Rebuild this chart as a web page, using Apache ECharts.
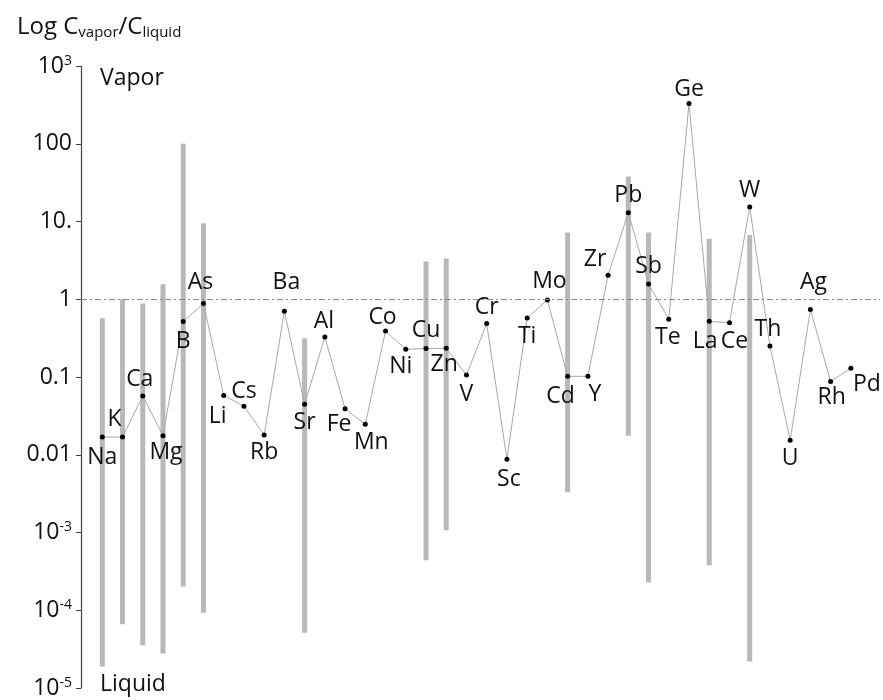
<!DOCTYPE html>
<html>
<head>
<meta charset="utf-8">
<script src="https://cdn.jsdelivr.net/npm/echarts@6/dist/echarts.min.js"></script>
<style>
  html, body { margin: 0; padding: 0; background: #fff; }
  #chart { width: 883px; height: 700px; }
</style>
</head>
<body>
<div id="chart"></div>
<script>
// Elements, in plotting order
const elements = ['Na', 'K', 'Ca', 'Mg', 'B', 'As', 'Li', 'Cs', 'Rb', 'Ba', 'Sr', 'Al', 'Fe', 'Mn',
  'Co', 'Ni', 'Cu', 'Zn', 'V', 'Cr', 'Sc', 'Ti', 'Mo', 'Cd', 'Y', 'Zr', 'Pb', 'Sb', 'Te', 'Ge',
  'La', 'Ce', 'W', 'Th', 'U', 'Ag', 'Rh', 'Pd'];

// C_vapor / C_liquid partition coefficient per element
const partition = [0.0169, 0.0169, 0.057, 0.0175, 0.516, 0.88, 0.058, 0.042, 0.018, 0.70,
  0.0446, 0.327, 0.039, 0.0247, 0.39, 0.227, 0.232, 0.234, 0.106, 0.486, 0.00875, 0.575,
  0.98, 0.102, 0.102, 2.04, 13.0, 1.57, 0.553, 329, 0.521, 0.50, 15.4, 0.25, 0.0154, 0.74,
  0.0873, 0.130];

// Reported ranges (element, low, high)
const rangeElements = ['Na', 'K', 'Ca', 'Mg', 'B', 'As', 'Sr', 'Cu', 'Zn', 'Cd', 'Pb', 'Sb', 'La', 'W'];
const rangeLow  = [1.89e-5, 6.6e-5, 3.55e-5, 2.77e-5, 2.02e-4, 9.3e-5, 5.15e-5, 4.4e-4, 1.07e-3,
  3.3e-3, 0.0175, 2.27e-4, 3.8e-4, 2.19e-5];
const rangeHigh = [0.57, 1.0, 0.88, 1.56, 100, 9.5, 0.315, 3.05, 3.34, 7.2, 37.8, 7.2, 6.0, 6.7];

// Y-axis tick labels, from 10^-5 up to 10^3
const tickLabels = ['10{s|-5}', '10{s|-4}', '10{s|-3}', '0.01', '0.1', '1', '10.', '100', '10{s|3}'];

// Label placement around each point (dx, dy)
const labelOffsets = [[0, 20], [-8, -18], [-3, -17], [3, 17], [0, 20], [-3, -21], [-6, 21], [0, -15],
  [0, 18], [2, -29], [0, 18], [-1, -16], [-6, 16], [6, 18], [-3, -14], [-5, 17], [0, -18], [-2, 16],
  [0, 19], [0, -16], [2, 20], [0, 19], [2, -18], [-7, 20], [7, 18], [-13, -16], [0, -17], [0, -18],
  [-1, 18], [0, -14], [-4, 20], [5, 19], [0, -16], [-2, -17], [0, 18], [3, -27], [1, 16], [16, 16]];

const FONT = '"Open Sans", "Noto Sans", sans-serif';

const pointData = elements.map((el, i) => ({
  name: el,
  value: [i, partition[i]],
  label: { offset: labelOffsets[i] }
}));

const rangeData = rangeElements.map((el, k) => [elements.indexOf(el), rangeLow[k], rangeHigh[k]]);

const chart = echarts.init(document.getElementById('chart'), null, { renderer: 'canvas' });

chart.setOption({
  animation: false,
  backgroundColor: '#fff',
  title: {
    text: 'Log C{sub|vapor}/C{sub|liquid}',
    left: 12,
    top: 9,
    textStyle: {
      fontFamily: FONT,
      fontSize: 24,
      fontWeight: 'normal',
      color: '#111',
      rich: {
        sub: { fontFamily: FONT, fontSize: 15, color: '#111', verticalAlign: 'bottom', padding: [11, 0, 0, 0] }
      }
    }
  },
  grid: { left: 81, right: 3, top: 66, bottom: 12 },
  xAxis: {
    type: 'value',
    min: -1.053,
    max: 38.44,
    show: false
  },
  yAxis: {
    type: 'log',
    logBase: 10,
    min: 1e-5,
    max: 1e3,
    splitNumber: 8,
    axisLine: { show: true, onZero: false, lineStyle: { color: '#444', width: 1.2 } },
    axisTick: { show: true, length: 5, lineStyle: { color: '#444' } },
    splitLine: { show: false },
    axisLabel: {
      margin: 9,
      fontFamily: FONT,
      fontSize: 23,
      color: '#111',
      formatter: v => tickLabels[Math.round(Math.log10(v)) + 5],
      rich: {
        s: { fontFamily: FONT, fontSize: 14, color: '#111', verticalAlign: 'top', padding: [0, 0, 10, 0] }
      }
    }
  },
  graphic: [
    { type: 'text', left: 100, top: 67, style: { text: 'Vapor', font: '23px ' + FONT, fill: '#111' } },
    { type: 'text', left: 100, top: 673, style: { text: 'Liquid', font: '23px ' + FONT, fill: '#111' } }
  ],
  series: [
    {
      type: 'custom',
      z: 1,
      data: rangeData,
      renderItem: (params, api) => {
        const lo = api.coord([api.value(0), api.value(1)]);
        const hi = api.coord([api.value(0), api.value(2)]);
        return {
          type: 'line',
          shape: { x1: lo[0], y1: lo[1], x2: hi[0], y2: hi[1] },
          style: { stroke: '#b8b8b8', lineWidth: 5 }
        };
      }
    },
    {
      type: 'line',
      z: 3,
      data: pointData,
      symbol: 'circle',
      symbolSize: 5,
      itemStyle: { color: '#000' },
      lineStyle: { color: '#a8a8a8', width: 1 },
      label: {
        show: true,
        position: 'inside',
        formatter: p => p.name,
        fontFamily: FONT,
        fontSize: 23,
        color: '#111',
        align: 'center',
        verticalAlign: 'middle'
      },
      markLine: {
        silent: true,
        symbol: 'none',
        label: { show: false },
        lineStyle: { color: '#888', type: [6, 3, 2, 3], width: 1 },
        data: [{ yAxis: 1 }]
      }
    }
  ]
});
</script>
</body>
</html>
